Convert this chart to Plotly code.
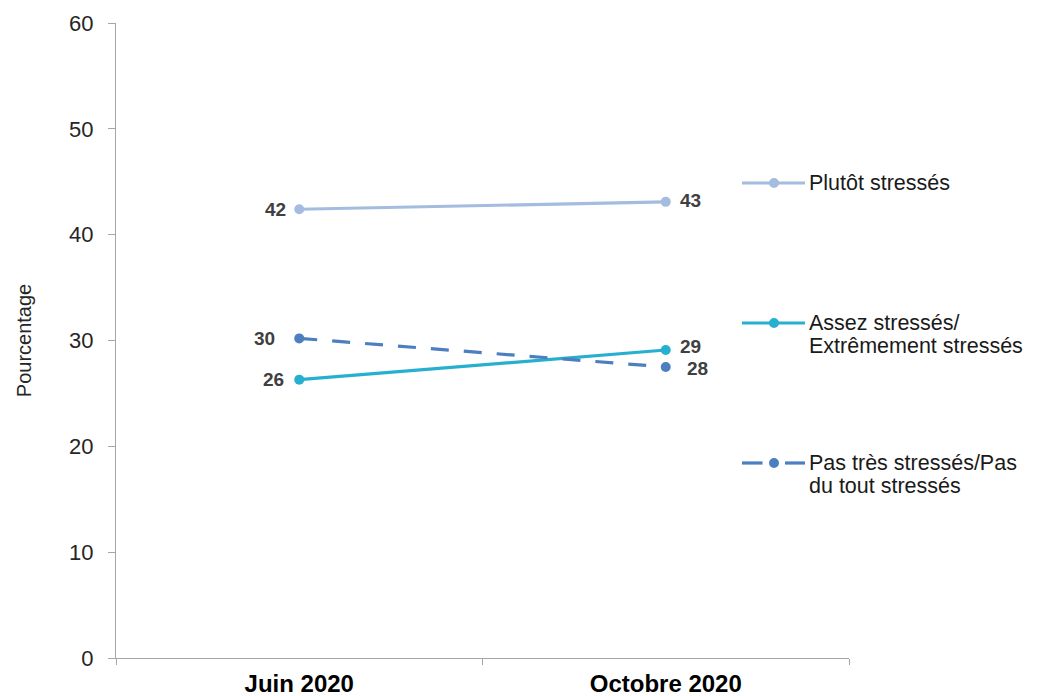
import plotly.graph_objects as go

# Survey waves and share of respondents (%) by stress level
periods = ["Juin 2020", "Octobre 2020"]
plutot = [42.4, 43.1]
assez_extreme = [26.3, 29.1]
pas_tres = [30.2, 27.5]

series_names = [
    "Plutôt stressés",
    "Assez stressés/<br>Extrêmement stressés",
    "Pas très stressés/Pas<br>du tout stressés",
]
series_values = [plutot, assez_extreme, pas_tres]
series_colors = ["#A3BCDF", "#27AFD0", "#4D7EBF"]
series_dash = ["solid", "solid", "18px,15px"]

# nudges (px) for the value labels: (left point, right point)
label_xshift = [(-11, 12), (-13, 12), (-22, 19)]
label_yshift = [(0, 1), (0, 4), (0, -2)]

fig = go.Figure()
for name, vals, col, dash in zip(series_names, series_values, series_colors, series_dash):
    fig.add_trace(go.Scatter(
        x=periods, y=vals, name=name, mode="lines+markers",
        line=dict(color=col, width=3.2, dash=dash),
        marker=dict(color=col, size=10),
        showlegend=False,
    ))

label_font = dict(family="Liberation Sans, Arial, sans-serif", size=19, color="#404040")
for vals, xs, ys in zip(series_values, label_xshift, label_yshift):
    for i, (p, v) in enumerate(zip(periods, vals)):
        fig.add_annotation(
            x=p, y=v, text=f"<b>{round(v)}</b>", showarrow=False,
            xanchor="right" if i == 0 else "left", yanchor="middle",
            xshift=xs[i], yshift=ys[i], font=label_font,
        )

# Legend drawn at the right of the plot area
leg_font = dict(family="Liberation Sans, Arial, sans-serif", size=21.5, color="#1a1a1a")
plot_h = 635.0
leg_rows = [183, 323, 463]
x0, x1, xm, xt = 0.854, 0.940, 0.8977, 0.943
for name, col, dash, row in zip(series_names, series_colors, series_dash, leg_rows):
    yp = (658 - row) / plot_h
    if dash == "solid":
        fig.add_shape(type="line", xref="paper", yref="paper", x0=x0, x1=x1, y0=yp, y1=yp,
                      line=dict(color=col, width=3.2))
    else:
        fig.add_shape(type="line", xref="paper", yref="paper", x0=x0, x1=0.882, y0=yp, y1=yp,
                      line=dict(color=col, width=3.2))
        fig.add_shape(type="line", xref="paper", yref="paper", x0=0.9127, x1=x1, y0=yp, y1=yp,
                      line=dict(color=col, width=3.2))
    r = 5 / 733.0
    ry = 5 / plot_h
    fig.add_shape(type="circle", xref="paper", yref="paper",
                  x0=xm - r, x1=xm + r, y0=yp - ry, y1=yp + ry,
                  fillcolor=col, line=dict(color=col, width=0))
    for k, line_txt in enumerate(name.split("<br>")):
        fig.add_annotation(
            xref="paper", yref="paper", x=xt, y=(658 - row - 23 * k) / plot_h,
            text=line_txt, showarrow=False, xanchor="left", yanchor="middle",
            font=leg_font,
        )

axis_color = "#A6A6A6"
fig.update_layout(
    width=1038, height=696,
    margin=dict(l=116, r=189, t=23, b=38),
    paper_bgcolor="white", plot_bgcolor="white",
    font=dict(family="Liberation Sans, Arial, sans-serif", color="#262626"),
    xaxis=dict(
        type="category", range=[-0.5, 1.5], tickson="boundaries",
        showline=True, linecolor=axis_color, linewidth=1,
        ticks="outside", ticklen=6, tickcolor=axis_color,
        showgrid=False, zeroline=False, automargin=False,
        tickfont=dict(size=24, color="#000000", weight="bold"),
        ticklabelstandoff=4,
    ),
    yaxis=dict(
        range=[0, 60], dtick=10,
        showline=True, linecolor=axis_color, linewidth=1,
        ticks="outside", ticklen=7, tickcolor=axis_color,
        showgrid=False, zeroline=False, automargin=False,
        tickfont=dict(size=22, color="#262626"),
        ticklabelstandoff=10,
        title=dict(text="Pourcentage", standoff=32,
                   font=dict(size=20, color="#262626")),
    ),
)

fig.write_html("out.html")
